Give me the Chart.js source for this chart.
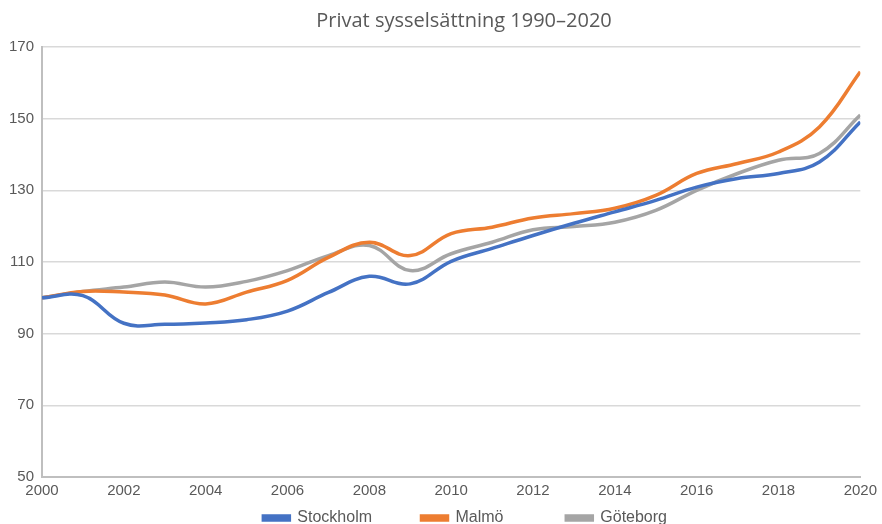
<!DOCTYPE html>
<html>
<head>
<meta charset="utf-8">
<script src="https://cdn.jsdelivr.net/npm/chart.js@4/dist/chart.umd.min.js"></script>
<style>
  html, body { margin: 0; padding: 0; background: #fff; }
  #wrap { width: 882px; height: 524px; }
</style>
</head>
<body>
<div id="wrap"><canvas id="jobsChart"></canvas></div>
<script>
// Index, 2000 = 100
const years = [2000, 2001, 2002, 2003, 2004, 2005, 2006, 2007, 2008, 2009, 2010,
               2011, 2012, 2013, 2014, 2015, 2016, 2017, 2018, 2019, 2020];
const stockholm = [100, 100.6, 92.9, 92.6, 93.0, 93.9, 96.3, 101.5, 106.0, 103.9, 110.2,
                   113.8, 117.4, 120.8, 124.0, 127.2, 130.9, 133.3, 134.7, 137.9, 149.1];
const malmo = [100, 101.8, 101.6, 100.8, 98.3, 101.6, 104.9, 111.3, 115.5, 111.8, 117.9,
               119.7, 122.3, 123.5, 125.0, 128.6, 134.7, 137.5, 140.7, 147.7, 163.1];
const goteborg = [100, 101.8, 103.0, 104.4, 103.0, 104.6, 107.6, 111.8, 114.6, 107.6, 112.3,
                  115.5, 119.0, 119.9, 121.1, 124.4, 130.0, 134.7, 138.4, 140.3, 151.0];
const yTicks = [50, 70, 90, 110, 130, 150, 170];
const titleText = "Privat sysselsättning 1990–2020";
const legendGaps = [10, 13, 0];   // trailing spaces after each legend label

const textGrey = "#595959";
const fontFam = "'Liberation Sans', Arial, sans-serif";

function pts(vals) {
    return years.map((y, i) => ({ x: y, y: vals[i] }));
}

function series(label, vals, color) {
    return {
        label: label,
        data: pts(vals),
        borderColor: color,
        backgroundColor: color,
        borderWidth: 3.5,
        pointRadius: 0,
        tension: 0.4,
        fill: false
    };
}

// title drawn a little right of centre, like the original
const titlePlugin = {
    id: "titleText",
    afterLayout(chart) {
        // the legend sits slightly right of centre too
        chart.legend.left += 14;
        chart.legend.right += 14;
    },
    afterDraw(chart) {
        const c = chart.ctx;
        c.save();
        c.fillStyle = textGrey;
        c.font = "20px 'Open Sans', sans-serif";
        c.textAlign = "center";
        c.textBaseline = "middle";
        c.fillText(titleText, 464, 21);
        c.restore();
    }
};

const ctx = document.getElementById("jobsChart").getContext("2d");
new Chart(ctx, {
    type: "line",
    data: {
        datasets: [
            series("Stockholm", stockholm, "#4472C4"),
            series("Malmö", malmo, "#ED7D31"),
            series("Göteborg", goteborg, "#A5A5A5")
        ]
    },
    options: {
        responsive: true,
        maintainAspectRatio: false,
        animation: false,
        layout: { padding: { left: 1, right: 21, top: 47, bottom: -12 } },
        plugins: {
            title: { display: false },
            legend: {
                position: "bottom",
                fullSize: false,
                labels: {
                    color: textGrey,
                    font: { family: fontFam, size: 16 },
                    boxWidth: 26,
                    boxHeight: 4,
                    padding: 5,
                    generateLabels: chart => {
                        const items = Chart.defaults.plugins.legend.labels.generateLabels(chart);
                        items.forEach((it, i) => { it.text = it.text + "\u00a0".repeat(legendGaps[i]); });
                        return items;
                    }
                }
            },
            tooltip: { enabled: false }
        },
        scales: {
            x: {
                type: "linear",
                min: years[0],
                max: years[years.length - 1],
                grid: { display: false, drawTicks: false },
                border: { display: true, color: "#bfbfbf", width: 2 },
                ticks: {
                    stepSize: 2,
                    color: textGrey,
                    font: { family: fontFam, size: 15 },
                    padding: 5,
                    maxRotation: 0,
                    callback: v => String(v)
                }
            },
            y: {
                min: yTicks[0],
                max: yTicks[yTicks.length - 1],
                afterBuildTicks: axis => { axis.ticks = yTicks.map(v => ({ value: v })); },
                grid: { color: "#d9d9d9", lineWidth: 1.5, drawTicks: false },
                border: { display: true, color: "#bfbfbf", width: 2 },
                ticks: {
                    color: textGrey,
                    font: { family: fontFam, size: 15 },
                    padding: 8
                }
            }
        }
    },
    plugins: [titlePlugin]
});
</script>
</body>
</html>
